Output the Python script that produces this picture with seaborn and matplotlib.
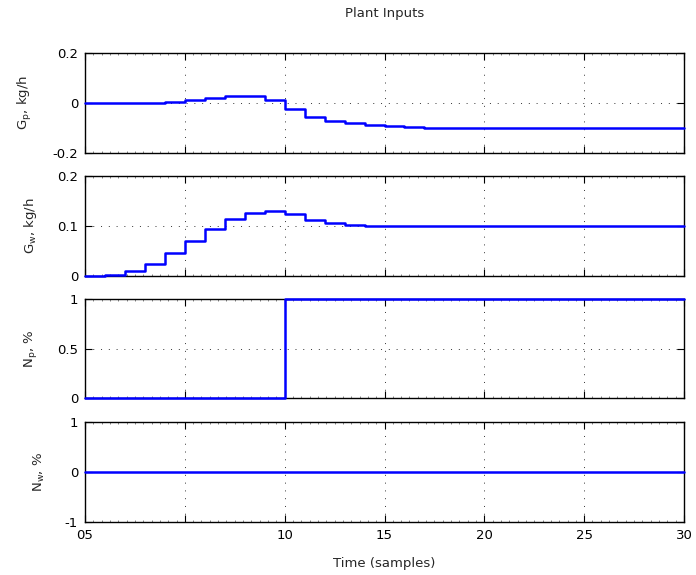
import matplotlib
matplotlib.use("Agg")
import matplotlib.pyplot as plt
from matplotlib.ticker import MultipleLocator, FixedLocator
import numpy as np
import pandas as pd
import seaborn as sns

# Sample index and the four manipulated inputs
samples = list(range(31))
gp = [0.001, 0.001, -0.001, -0.001, 0.003, 0.012, 0.021, 0.029, 0.030, 0.014,
      -0.022, -0.055, -0.072, -0.081, -0.088, -0.093, -0.096, -0.098, -0.099, -0.100,
      -0.100, -0.100, -0.100, -0.100, -0.100, -0.100, -0.100, -0.100, -0.100, -0.100, -0.100]
gw = [0.001, 0.003, 0.011, 0.025, 0.047, 0.071, 0.094, 0.114, 0.127, 0.131,
      0.125, 0.113, 0.107, 0.103, 0.101, 0.100, 0.100, 0.100, 0.100, 0.100,
      0.100, 0.100, 0.101, 0.101, 0.101, 0.101, 0.101, 0.101, 0.101, 0.101, 0.101]
np_in = [0] * 10 + [1] * 21
nw = [0] * 31

series = [gp, gw, np_in, nw]
ylabels = [r"G$_p$, kg/h", r"G$_w$, kg/h", r"N$_p$, %", r"N$_w$, %"]
yticks = [[-0.2, 0, 0.2], [0, 0.1, 0.2], [0, 0.5, 1], [-1, 0, 1]]
yticklabels = [["-0.2", "0", "0.2"], ["0", "0.1", "0.2"], ["0", "0.5", "1"], ["-1", "0", "1"]]
xticks = [0, 5, 10, 15, 20, 25, 30]
xticklabels = ["05", "", "10", "15", "20", "25", "30"]

sns.set_style("white")
plt.rcParams["font.family"] = ["DejaVu Sans"]
plt.rcParams["mathtext.default"] = "regular"
plt.rcParams["axes.unicode_minus"] = False

W, H = 696, 575
fig = plt.figure(figsize=(W / 100, H / 100), dpi=100)

left, right = 85, 684
panels = [(53, 153), (176, 276), (299, 398), (422, 522)]
fs = 9.5

for i, (top, bottom) in enumerate(panels):
    ax = fig.add_axes([left / W, 1 - bottom / H, (right - left) / W, (bottom - top) / H])
    df = pd.DataFrame({"t": samples, "v": series[i]})
    sns.lineplot(data=df, x="t", y="v", ax=ax, color="#0000ff", linewidth=1.8,
                 drawstyle="steps-post", legend=False, clip_on=False, zorder=5)
    ax.set_xlim(0, 30)
    ax.set_ylim(yticks[i][0], yticks[i][-1])
    ax.yaxis.set_major_locator(FixedLocator(yticks[i]))
    ax.set_yticklabels(yticklabels[i], fontsize=fs)
    ax.xaxis.set_major_locator(FixedLocator(xticks))
    ax.xaxis.set_minor_locator(MultipleLocator(5 / 12))
    if i == 3:
        ax.set_xticklabels(xticklabels, fontsize=fs)
        ax.set_xlabel("Time (samples)", fontsize=fs, labelpad=11)
    else:
        ax.set_xticklabels([])
        ax.set_xlabel("")
    ax.set_ylabel(ylabels[i], fontsize=fs, labelpad=13)
    ax.grid(True, which="major", linestyle=(0, (1, 7)), color="#333333", linewidth=0.7)
    ax.tick_params(which="major", direction="in", length=5, width=0.8, top=True, right=True,
                   bottom=True, left=True, pad=5, colors="black")
    ax.tick_params(which="minor", direction="in", length=1.5, width=0.5, top=True, bottom=True,
                   colors="#555555")
    for s in ax.spines.values():
        s.set_visible(True)
        s.set_color("black")
        s.set_linewidth(1.0)
        s.set_zorder(4)

fig.text((left + right) / 2 / W, 1 - 13 / H, "Plant Inputs", ha="center", va="center", fontsize=fs)

fig.savefig("out.png", dpi=100, facecolor="white")
